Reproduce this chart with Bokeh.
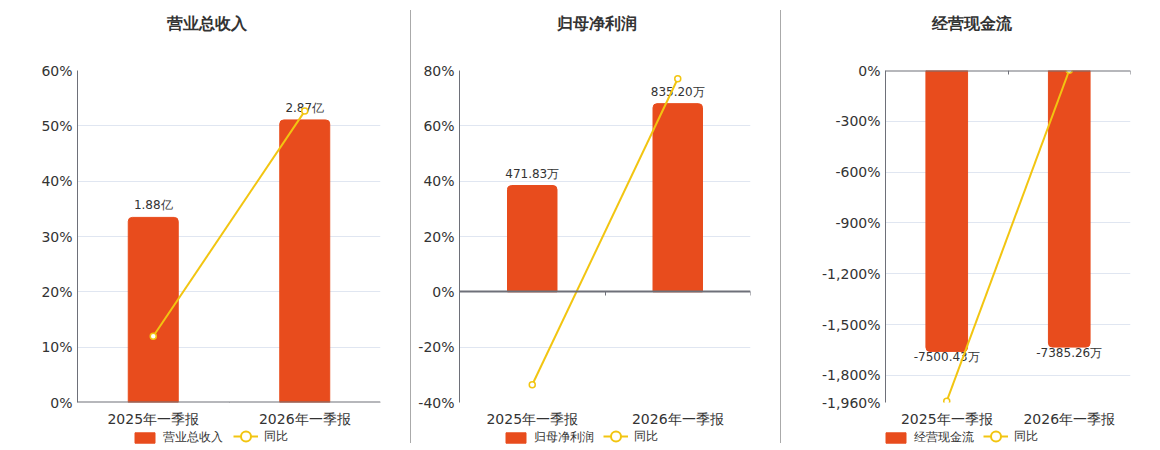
from bokeh.plotting import figure
from bokeh.models import (Range1d, LinearAxis, FixedTicker, NumeralTickFormatter, ColumnDataSource,
                          Legend, LegendItem, Div, Label)
from bokeh.layouts import row, column
from bokeh.embed import file_html
from bokeh.resources import INLINE
from bokeh.core.properties import value

# ---------------- data ----------------
periods = ["2025年一季报", "2026年一季报"]

titles = ["营业总收入", "归母净利润", "经营现金流"]

revenue = [1.88, 2.87]          # 亿
revenue_unit = "亿"
revenue_yoy = [11.97, 52.66]    # %

profit = [471.83, 835.20]       # 万
profit_unit = "万"
profit_yoy = [-33.6, 77.01]     # %

cashflow = [-7500.43, -7385.26]  # 万
cashflow_unit = "万"
cashflow_yoy = [-1952.0, 1.54]   # %

pct_ticks_1 = [0, 10, 20, 30, 40, 50, 60]
pct_ticks_2 = [-40, -20, 0, 20, 40, 60, 80]
pct_ticks_3 = [-1960, -1800, -1500, -1200, -900, -600, -300, 0]

BAR = "#E84C1D"
LINE = "#F2C511"
AXIS = "#6E7079"
GRID = "#E0E6F1"
TXT = "#333333"
FONT = "DejaVu Sans"

TH = 46            # title strip height
H = 429 - TH       # main plot height
TOP = 70 - TH
BOTTOM = 25
LH = 21            # legend strip height


def strip(width, height):
    s = figure(width=width, height=height, output_backend="svg", toolbar_location=None,
               x_range=Range1d(0, 1), y_range=Range1d(0, 1),
               x_axis_type=None, y_axis_type=None,
               min_border_left=0, min_border_right=0, min_border_top=0, min_border_bottom=0,
               background_fill_color="white", border_fill_color="white")
    s.outline_line_color = None
    s.xgrid.grid_line_color = None
    s.ygrid.grid_line_color = None
    return s


def panel(title, vals, unit, yoy, ticks, bar_range, width, bl, br, bar_w, below_label,
          legend_x, line_x):
    # title strip
    ts = strip(width, TH)
    ts.add_layout(Label(x=width / 2 - bl + 1, y=0.5, x_units="screen", y_units="data",
                        text=title, text_align="center", text_baseline="middle",
                        text_font_size="16px", text_font_style="bold",
                        text_font=FONT, text_color=TXT))

    p = figure(width=width, height=H, output_backend="svg", toolbar_location=None,
               x_range=Range1d(0, 2), y_range=Range1d(ticks[0] / 100, ticks[-1] / 100),
               min_border_left=bl, min_border_right=br, min_border_top=TOP,
               min_border_bottom=BOTTOM,
               background_fill_color="white", border_fill_color="white")
    p.outline_line_color = None
    p.extra_y_ranges = {"bar": Range1d(*bar_range)}

    # axes
    p.xaxis.ticker = FixedTicker(ticks=[0.5, 1.5])
    p.xaxis.major_label_overrides = {0.5: periods[0], 1.5: periods[1]}
    p.xaxis.axis_line_color = None
    p.xaxis.major_tick_line_color = None
    p.xaxis.major_tick_out = 0
    p.xaxis.major_tick_in = 0
    p.xaxis.minor_tick_line_color = None
    p.xaxis.major_label_standoff = 8
    p.xaxis.major_label_text_font_size = "14px"
    p.xaxis.major_label_text_font = FONT
    p.xaxis.major_label_text_color = TXT

    p.yaxis.ticker = FixedTicker(ticks=[t / 100 for t in ticks])
    p.yaxis.formatter = NumeralTickFormatter(format="0,0%")
    p.yaxis.axis_line_color = AXIS
    p.yaxis.major_tick_line_color = None
    p.yaxis.major_tick_out = 0
    p.yaxis.major_tick_in = 0
    p.yaxis.minor_tick_line_color = None
    p.yaxis.major_label_standoff = 5
    p.yaxis.major_label_text_font_size = "14px"
    p.yaxis.major_label_text_font = FONT
    p.yaxis.major_label_text_color = TXT

    p.xgrid.grid_line_color = None
    p.ygrid.grid_line_color = GRID
    p.ygrid.ticker = FixedTicker(ticks=[t / 100 for t in ticks])

    # zero line axis with category boundary ticks
    zero_axis = LinearAxis(fixed_location=0, ticker=FixedTicker(ticks=[0, 1, 2]),
                           axis_line_color=AXIS, axis_line_width=2,
                           major_tick_line_color=AXIS, major_tick_in=4, major_tick_out=0,
                           minor_tick_line_color=None,
                           major_label_text_font_size="0px", major_label_text_alpha=0)
    p.add_layout(zero_axis, "above")

    xs = [0.5, 1.5]
    labels = [f"{v:.2f}{unit}" for v in vals]
    src = ColumnDataSource(dict(x=xs, top=vals, label=labels,
                                yoy=[v / 100 for v in yoy]))
    radius = (0, 0, 4, 4) if below_label else (4, 4, 0, 0)
    p.vbar(x="x", top="top", bottom=0, width=bar_w, source=src, y_range_name="bar",
           fill_color=BAR, line_color=BAR, border_radius=radius)
    if below_label:
        p.text(x="x", y="top", text="label", source=src, y_range_name="bar",
               text_align="center", text_baseline="top", y_offset=-1,
               text_font_size="12px", text_font=value(FONT), text_color=TXT)
    else:
        p.text(x="x", y="top", text="label", source=src, y_range_name="bar",
               text_align="center", text_baseline="bottom", y_offset=-5,
               text_font_size="12px", text_font=value(FONT), text_color=TXT)

    p.line(x="x", y="yoy", source=src, line_color=LINE, line_width=2)
    p.scatter(x="x", y="yoy", source=src, size=6, marker="circle",
              fill_color="white", line_color=LINE, line_width=1.5)

    # legend strip (sample glyphs sit outside the visible range)
    lg = strip(width, LH)
    lb = lg.vbar(x=[5], top=[5], bottom=[4], width=0.1, fill_color=BAR, line_color=BAR,
                 border_radius=3)
    ll = lg.line(x=[5, 6], y=[5, 5], line_color=LINE, line_width=2)
    lc = lg.scatter(x=[5], y=[5], size=11, marker="circle",
                    fill_color="white", line_color=LINE, line_width=2)
    common = dict(orientation="horizontal", glyph_width=25, label_standoff=6,
                  padding=0, margin=0, border_line_color=None, background_fill_alpha=0,
                  label_text_font_size="12px", label_text_font=FONT, label_text_color=TXT)
    legend_a = Legend(items=[LegendItem(label=title, renderers=[lb])],
                      location=(legend_x - bl, 4), glyph_height=13, label_height=16, **common)
    legend_b = Legend(items=[LegendItem(label="同比", renderers=[ll, lc])],
                      location=(line_x - bl, 1), glyph_height=26, label_height=26, **common)
    lg.add_layout(legend_a, "center")
    lg.add_layout(legend_b, "center")
    return column(ts, p, lg, spacing=0)


p1 = panel(titles[0], revenue, revenue_unit, revenue_yoy, pct_ticks_1, (0, 3.372),
           410, 77, 30, 0.33, False, 132, 233)
p2 = panel(titles[1], profit, profit_unit, profit_yoy, pct_ticks_2, (-491.2, 982.4),
           369, 48, 30, 0.34, False, 92, 192)
p3 = panel(titles[2], cashflow, cashflow_unit, cashflow_yoy, pct_ticks_3, (-8865, 0),
           379, 104, 30, 0.34, True, 102, 202)


def sep():
    return Div(text="<div style='width:1px;height:433px;margin-top:10px;background:#AAAAAA'></div>",
               width=1, height=TH + H + LH, margin=0)


layout = row(p1, sep(), p2, sep(), p3, spacing=0)

open("out.html", "w").write(file_html(layout, INLINE))
